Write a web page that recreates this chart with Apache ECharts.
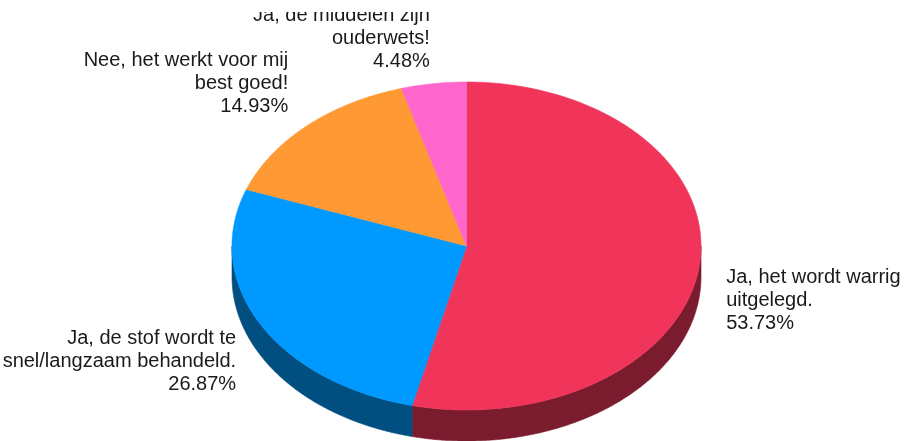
<!DOCTYPE html>
<html><head><meta charset="utf-8">
<script src="https://cdn.jsdelivr.net/npm/echarts@6/dist/echarts.min.js"></script>
<style>html,body{margin:0;padding:0;background:#fff}#c{width:914px;height:441px}</style>
</head><body><div id="c"></div>
<script>
const categories = ['Ja, het wordt warrig\nuitgelegd.', 'Ja, de stof wordt te\nsnel/langzaam behandeld.', 'Nee, het werkt voor mij\nbest goed!', 'Ja, de middelen zijn\nouderwets!'];
const percentages = [53.73, 26.87, 14.93, 4.48];
const topColors = ['#F0345A', '#0099FF', '#FF9933', '#FF66CC'];
const sideColors = ['#7A1C2D', '#004F80', '#804C1A', '#803366'];

const CX = 466.5, CY = 246, RX = 234.5, RY = 164, DEPTH = 31;

const chart = echarts.init(document.getElementById('c'), null, {renderer: 'canvas'});

function buildOption(vals) {
  const total = vals.reduce((a, b) => a + b, 0);
  const starts = [];
  let acc = 0;
  vals.forEach(v => { starts.push(acc); acc += v; });
  function pt(t, dy) { return [CX + RX * Math.sin(t), CY - RY * Math.cos(t) + (dy || 0)]; }
  function arc(a0, a1, dy) {
    const n = Math.max(2, Math.ceil((a1 - a0) / (Math.PI / 360)));
    const out = [];
    for (let k = 0; k <= n; k++) out.push(pt(a0 + (a1 - a0) * k / n, dy));
    return out;
  }
  function renderItem(params, api) {
    const i = params.dataIndex;
    const v = api.value(0);
    const a0 = starts[i] / total * 2 * Math.PI;
    const a1 = (starts[i] + v) / total * 2 * Math.PI;
    const children = [];
    const s0 = Math.max(a0, Math.PI / 2), s1 = Math.min(a1, 3 * Math.PI / 2);
    if (s1 > s0) {
      const pts = arc(s0, s1, 0).concat(arc(s0, s1, DEPTH).reverse());
      children.push({type: 'polygon', z2: 0, shape: {points: pts},
        style: {fill: sideColors[i], stroke: sideColors[i], lineWidth: 0.6}});
    }
    const topPts = [[CX, CY]].concat(arc(a0, a1, 0));
    children.push({type: 'polygon', z2: 1, shape: {points: topPts},
      style: {fill: topColors[i], stroke: topColors[i], lineWidth: 0.6}});
    const mid = (a0 + a1) / 2;
    const sn = Math.sin(mid), cs = Math.cos(mid);
    children.push({type: 'text', z2: 5, style: {
      text: categories[i] + '\n' + v.toFixed(2) + '%',
      x: CX + 1.115 * RX * sn,
      y: CY - (cs > 0 ? 1.067 : 1.05) * RY * cs,
      align: sn >= 0 ? 'left' : 'right',
      verticalAlign: cs < 0 ? 'top' : 'bottom',
      font: '20px "Liberation Sans", Arial, sans-serif',
      lineHeight: 23,
      fill: '#1a1a1a'
    }});
    return {type: 'group', children: children};
  }
  return {
    animation: false,
    backgroundColor: '#fff',
    series: [{
      type: 'custom',
      coordinateSystem: 'none',
      renderItem: renderItem,
      data: vals.map((v, i) => ({value: v, name: categories[i]}))
    }],
    graphic: [{type: 'rect', z: 100, shape: {x: 0, y: 0, width: 914, height: 12}, style: {fill: '#fff'}}]
  };
}
chart.setOption(buildOption(percentages));
</script>
</body></html>
